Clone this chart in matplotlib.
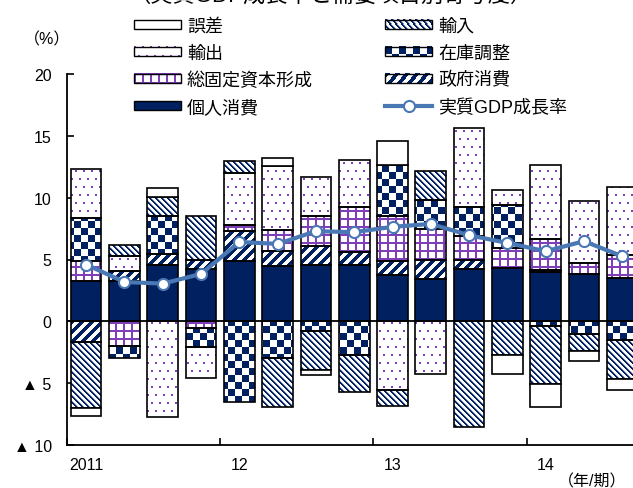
"""GDP growth with demand-component contributions (stacked bars + line)."""

import matplotlib

matplotlib.use("Agg")
import matplotlib.pyplot as plt
import numpy as np
from matplotlib.colors import to_rgb
from matplotlib.image import BboxImage
from matplotlib.legend_handler import HandlerBase
from matplotlib.lines import Line2D
from matplotlib.patches import Patch, Rectangle
from matplotlib.path import Path
from matplotlib.transforms import Bbox, TransformedBbox

plt.rcParams["font.family"] = ["Liberation Sans", "Noto Sans CJK JP"]

# --- data (contribution to real GDP growth, % points) ---
quarters = ["2011Q1", "2011Q2", "2011Q3", "2011Q4",
            "2012Q1", "2012Q2", "2012Q3", "2012Q4",
            "2013Q1", "2013Q2", "2013Q3", "2013Q4",
            "2014Q1", "2014Q2", "2014Q3"]
year_labels = ["2011", "12", "13", "14"]
gdp_growth = [4.59, 3.18, 3.05, 3.83, 6.42, 6.26, 7.29, 7.21,
              7.64, 7.88, 6.96, 6.34, 5.67, 6.48, 5.26]
private_consumption = [3.30, 3.24, 4.53, 4.26, 4.91, 4.45, 4.59, 4.59,
                       3.78, 3.45, 4.24, 4.32, 3.97, 3.80, 3.50]
government_consumption = [-1.70, 0.81, 0.94, 0.67, 2.38, 1.27, 1.54, 1.03,
                          1.08, 1.48, 0.70, 0.0, 0.16, 0.0, 0.0]
fixed_investment = [1.57, -2.02, 0.0, -0.50, 0.54, 1.70, 2.37, 3.64,
                    3.64, 2.54, 1.94, 1.62, 2.54, 0.89, 1.90]
inventory = [3.51, -0.97, 3.02, -1.55, -6.56, -2.97, -0.76, -2.70,
             4.18, 2.37, 2.37, 3.43, -0.35, -1.03, -1.48]
exports = [3.91, 1.21, -7.72, -2.55, 4.18, 5.18, 3.16, 3.78,
           -5.53, -4.26, 6.40, 1.24, 5.96, 5.05, 5.45]
imports = [-5.34, 0.95, 1.57, 3.56, 0.94, -3.94, -3.18, -3.05,
           -1.35, 2.29, -8.58, -2.73, -4.72, -1.35, -3.18]
discrepancy = [-0.65, 0.0, 0.73, 0.0, 0.0, 0.57, -0.40, 0.0,
               1.89, 0.0, 0.0, -1.54, -1.89, -0.81, -0.89]

NAVY = "#002060"
PURPLE = "#7F3FB8"
LINE_BLUE = "#4A78B4"
DPI = 100
FIG_W, FIG_H = 6.33, 4.89
AX_POS = [67 / 633, 43 / 489, 566 / 633, 371 / 489]
XLIM = (-0.5, 14.28)
YLIM = (-10, 20)
BAR_WIDTH = 0.8


def pattern_rgb(kind, h, w):
    iy, ix = np.mgrid[0:h, 0:w]
    img = np.ones((h, w, 3))
    if kind == "checker":
        img[((ix // 7 + iy // 7) % 2) == 0] = to_rgb(NAVY)
    elif kind == "thin_hatch":
        img[(ix - iy) % 6 == 2] = to_rgb("#8C9AC0")
        img[(ix - iy) % 6 < 2] = to_rgb(NAVY)
    elif kind == "wide_stripe":
        img[(ix + iy) % 10 < 5] = to_rgb(NAVY)
    elif kind == "grid":
        img[(ix % 8 < 2) | (iy % 8 < 2)] = to_rgb(PURPLE)
    elif kind == "dots":
        shift = 4 * ((iy // 8) % 2)
        img[(iy % 8 < 2) & ((ix + shift) % 8 < 2)] = to_rgb("#8040C0")
    return img


class PatternHandler(HandlerBase):
    def __init__(self, kind):
        super().__init__()
        self.kind = kind

    def create_artists(self, legend, orig_handle, xdescent, ydescent,
                       width, height, fontsize, trans):
        bbox = TransformedBbox(Bbox.from_bounds(-xdescent, -ydescent, width, height), trans)
        img = BboxImage(bbox, interpolation="nearest")
        px = DPI / 72
        img.set_data(pattern_rgb(self.kind, max(1, round(height * px)), max(1, round(width * px))))
        frame = Rectangle((-xdescent, -ydescent), width, height, facecolor="none",
                          edgecolor="black", linewidth=1.0, transform=trans)
        return [img, frame]


def draw_stack(ax, x, series):
    pos = np.zeros(len(x))
    neg = np.zeros(len(x))
    w_px = round(FIG_W * DPI * AX_POS[2])
    h_px = round(FIG_H * DPI * AX_POS[3])
    for vals, kind in series:
        v = np.asarray(vals, dtype=float)
        bottom = np.where(v >= 0, pos, neg)
        keep = v != 0
        face = {"navy": NAVY, "white": "white"}.get(kind, "none")
        bars = ax.bar(x[keep], v[keep], BAR_WIDTH, bottom=bottom[keep], facecolor=face,
                      edgecolor="black", linewidth=1.2, zorder=3)
        if face == "none":
            clip = Path.make_compound_path(
                *[b.get_path().transformed(b.get_patch_transform()) for b in bars])
            im = ax.imshow(pattern_rgb(kind, h_px, w_px), extent=(*XLIM, *YLIM),
                           origin="upper", aspect="auto", interpolation="nearest", zorder=2)
            im.set_clip_path(clip, transform=ax.transData)
        pos += np.clip(v, 0, None)
        neg += np.clip(v, None, 0)


def main():
    fig = plt.figure(figsize=(FIG_W, FIG_H), dpi=DPI)
    ax = fig.add_axes(AX_POS)
    x = np.arange(len(quarters))

    draw_stack(ax, x, [
        (private_consumption, "navy"),
        (government_consumption, "wide_stripe"),
        (fixed_investment, "grid"),
        (inventory, "checker"),
        (exports, "dots"),
        (imports, "thin_hatch"),
        (discrepancy, "white"),
    ])
    ax.axhline(0, color="black", linewidth=1.3, zorder=4)
    ax.plot(x, gdp_growth, color=LINE_BLUE, linewidth=3, marker="o", markersize=8,
            markerfacecolor="white", markeredgecolor=LINE_BLUE, markeredgewidth=1.5, zorder=5)

    ax.set_xlim(*XLIM)
    ax.set_ylim(*YLIM)
    for side in ("top", "right"):
        ax.spines[side].set_visible(False)
    for side in ("left", "bottom"):
        ax.spines[side].set_linewidth(1.3)

    ax.set_yticks([-10, -5, 0, 5, 10, 15, 20])
    ax.set_yticklabels(["▲ 10", "▲ 5", "0", "5", "10", "15", "20"])
    ax.tick_params(axis="y", direction="in", length=5, width=1.2, pad=11, labelsize=11.5)
    ax.set_xticks([-0.5, 3.5, 7.5, 11.5])
    ax.set_xticklabels([])
    ax.set_xticks([0, 4, 8, 12], year_labels, minor=True)
    ax.tick_params(axis="x", which="major", direction="in", length=5, width=1.2)
    ax.tick_params(axis="x", which="minor", length=0, pad=9, labelsize=11.5)

    fig.text(47 / 633, 1 - 40 / 489, "（%）", ha="center", va="center", fontsize=11.5)
    fig.text(592 / 633, 1 - 482 / 489, "（年/期）", ha="center", va="center", fontsize=11.5)
    # title is cropped at the top edge in the source figure
    fig.text(331 / 633, 1 + 4 / 489, "（実質GDP成長率と需要項目別寄与度）",
             ha="center", va="center", fontsize=16)

    h_err = Patch(facecolor="white", edgecolor="black", linewidth=1.0)
    h_exp = Patch()
    h_inv_fixed = Patch()
    h_pc = Patch(facecolor=NAVY, edgecolor="black", linewidth=1.0)
    h_imp = Patch()
    h_stock = Patch()
    h_gov = Patch()
    h_gdp = Line2D([], [], color=LINE_BLUE, linewidth=3, marker="o", markersize=8,
                   markerfacecolor="white", markeredgecolor=LINE_BLUE, markeredgewidth=1.5)
    handles = [h_err, h_exp, h_inv_fixed, h_pc, h_imp, h_stock, h_gov, h_gdp]
    labels = ["誤差", "輸出", "総固定資本形成", "個人消費",
              "輸入", "在庫調整", "政府消費", "実質GDP成長率"]
    fig.legend(handles, labels, ncol=2, loc="upper left",
               bbox_to_anchor=(134 / 633, 1 - 19 / 489), frameon=False, fontsize=13,
               handlelength=2.6, handleheight=0.4, handletextpad=0.33,
               labelspacing=0.54, columnspacing=4.0, borderpad=0, borderaxespad=0,
               numpoints=1,
               handler_map={h_exp: PatternHandler("dots"),
                            h_inv_fixed: PatternHandler("grid"),
                            h_imp: PatternHandler("thin_hatch"),
                            h_stock: PatternHandler("checker"),
                            h_gov: PatternHandler("wide_stripe")})

    fig.savefig("out.png", dpi=DPI)
    plt.close(fig)


if __name__ == "__main__":
    main()
